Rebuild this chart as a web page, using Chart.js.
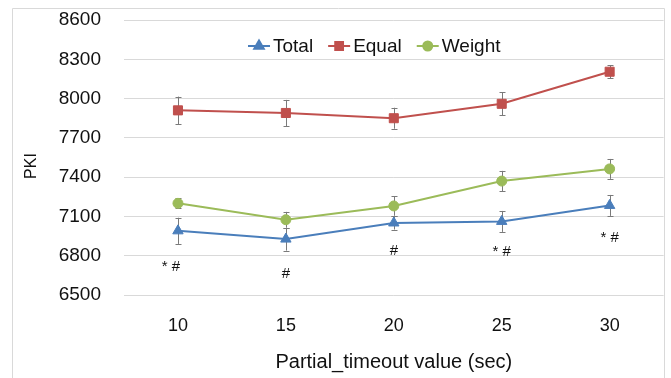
<!DOCTYPE html>
<html>
<head>
<meta charset="utf-8">
<script src="https://cdn.jsdelivr.net/npm/chart.js@4/dist/chart.umd.min.js"></script>
<style>
html, body { margin: 0; padding: 0; background: #ffffff; }
#wrap { width: 671px; height: 378px; position: relative; }
</style>
</head>
<body>
<div id="wrap"><canvas id="c" width="671" height="378"></canvas></div>
<script>
// ---- data ----
const categories = ['10', '15', '20', '25', '30'];
const totalValues  = [6990, 6927, 7050, 7062, 7184];
const totalErrors  = [100, 88, 50, 80, 80];
const equalValues  = [7910, 7890, 7850, 7960, 8205];
const equalErrors  = [105, 100, 80, 87, 48];
const weightValues = [7200, 7075, 7180, 7370, 7463];
const weightErrors = [38, 60, 75, 78, 76];
const yTicks = [6500, 6800, 7100, 7400, 7700, 8000, 8300, 8600];
const noteTexts  = ['* #', '#', '#', '* #', '* #'];
const noteValues = [6714, 6660, 6836, 6828, 6935];
const seriesLabels = ['Total', 'Equal', 'Weight'];
const yTitle = 'PKI';
const xTitle = 'Partial_timeout value (sec)';

// ---- styles ----
const FONT = "'Liberation Sans', Arial, sans-serif";
const TEXT = '#111111';
const colors = ['#4a7ebb', '#c0504d', '#9bbb59'];
const pointStyles = ['triangle', 'rect', 'circle'];
const pointRadii = [6, 6.4, 5];
const errorSets = [totalErrors, equalErrors, weightErrors];
const noteShift = [-7, 0, 0, 0, 0];

const framePlugin = {
  id: 'frame',
  beforeDraw(chart) {
    const ctx = chart.ctx;
    ctx.save();
    ctx.strokeStyle = '#d9d9d9';
    ctx.lineWidth = 1;
    ctx.beginPath();
    ctx.moveTo(12.5, 378);
    ctx.lineTo(12.5, 8.5);
    ctx.lineTo(664.5, 8.5);
    ctx.lineTo(664.5, 378);
    ctx.stroke();
    ctx.restore();
  }
};

const yTitlePlugin = {
  id: 'yTitle',
  afterDraw(chart) {
    const ctx = chart.ctx;
    ctx.save();
    ctx.translate(32, 166);
    ctx.rotate(-Math.PI / 2);
    ctx.font = '16px ' + FONT;
    ctx.fillStyle = TEXT;
    ctx.textAlign = 'center';
    ctx.textBaseline = 'middle';
    ctx.fillText(yTitle, 0, 0);
    ctx.restore();
  }
};

const errorBarPlugin = {
  id: 'errorBars',
  beforeDatasetsDraw(chart) {
    const ctx = chart.ctx;
    const ys = chart.scales.y;
    ctx.save();
    ctx.strokeStyle = '#7a7a7a';
    ctx.lineWidth = 1;
    chart.data.datasets.forEach((ds, di) => {
      const meta = chart.getDatasetMeta(di);
      const errs = errorSets[di];
      meta.data.forEach((pt, i) => {
        const v = ds.data[i];
        const x = Math.round(pt.x) + 0.5;
        const yTop = ys.getPixelForValue(v + errs[i]);
        const yBot = ys.getPixelForValue(v - errs[i]);
        ctx.beginPath();
        ctx.moveTo(x, yTop); ctx.lineTo(x, yBot);
        ctx.moveTo(x - 3, Math.round(yTop) + 0.5); ctx.lineTo(x + 3, Math.round(yTop) + 0.5);
        ctx.moveTo(x - 3, Math.round(yBot) + 0.5); ctx.lineTo(x + 3, Math.round(yBot) + 0.5);
        ctx.stroke();
      });
    });
    ctx.restore();
  }
};

const notesPlugin = {
  id: 'notes',
  afterDatasetsDraw(chart) {
    const ctx = chart.ctx;
    const xs = chart.scales.x, ys = chart.scales.y;
    ctx.save();
    ctx.fillStyle = TEXT;
    ctx.font = '15px ' + FONT;
    ctx.textAlign = 'center';
    ctx.textBaseline = 'middle';
    noteTexts.forEach((t, i) => {
      ctx.fillText(t, xs.getPixelForValue(i) + noteShift[i], ys.getPixelForValue(noteValues[i]));
    });
    ctx.restore();
  }
};

const legendPlugin = {
  id: 'customLegend',
  afterDraw(chart) {
    const ctx = chart.ctx;
    ctx.save();
    ctx.font = '19px ' + FONT;
    ctx.textBaseline = 'middle';
    ctx.textAlign = 'left';
    let x = 248;
    const y = 46;
    chart.data.datasets.forEach((ds, di) => {
      ctx.strokeStyle = colors[di];
      ctx.lineWidth = 2;
      ctx.beginPath();
      ctx.moveTo(x, y); ctx.lineTo(x + 22, y);
      ctx.stroke();
      Chart.helpers.drawPoint(ctx, {
        pointStyle: pointStyles[di], radius: di === 2 ? 4.5 : 5.5,
        borderWidth: 1, rotation: 0
      }, x + 11, y);
      ctx.fillStyle = colors[di];
      ctx.strokeStyle = colors[di];
      ctx.fill();
      ctx.fillStyle = TEXT;
      ctx.fillText(ds.label, x + 25, y + 1);
      x += 25 + ctx.measureText(ds.label).width + 15;
    });
    ctx.restore();
  }
};

function makeDataset(i, values) {
  return {
    label: seriesLabels[i],
    data: values,
    borderColor: colors[i],
    backgroundColor: colors[i],
    borderWidth: 2,
    pointStyle: pointStyles[i],
    pointRadius: pointRadii[i],
    pointHoverRadius: pointRadii[i],
    pointBorderWidth: 1,
    tension: 0,
    fill: false
  };
}

new Chart(document.getElementById('c'), {
  type: 'line',
  data: {
    labels: categories,
    datasets: [
      makeDataset(0, totalValues),
      makeDataset(1, equalValues),
      makeDataset(2, weightValues)
    ]
  },
  options: {
    responsive: false,
    animation: false,
    devicePixelRatio: 1,
    layout: { padding: { top: 20, right: 6, left: 0, bottom: 0 } },
    plugins: { legend: { display: false }, tooltip: { enabled: false } },
    scales: {
      x: {
        type: 'category',
        offset: true,
        grid: { display: false, drawTicks: false },
        border: { display: false },
        ticks: { color: TEXT, font: { family: FONT, size: 18 }, padding: 20 },
        title: {
          display: true, text: xTitle, color: TEXT,
          font: { family: FONT, size: 20 }, padding: { top: 0, bottom: 4 }
        },
        afterFit(s) { s.height = 83; s.paddingLeft = 0; s.paddingRight = 0; }
      },
      y: {
        min: 6500, max: 8600,
        afterBuildTicks(s) { s.ticks = yTicks.map(v => ({ value: v })); },
        grid: { color: '#d9d9d9', lineWidth: 1, drawTicks: false },
        border: { display: false },
        ticks: { color: TEXT, font: { family: FONT, size: 19 }, padding: 23, callback: v => String(v) },
        title: { display: false },
        afterFit(s) { s.width = 124; s.paddingTop = 0; s.paddingBottom = 0; }
      }
    }
  },
  plugins: [framePlugin, errorBarPlugin, notesPlugin, legendPlugin, yTitlePlugin]
});
</script>
</body>
</html>
